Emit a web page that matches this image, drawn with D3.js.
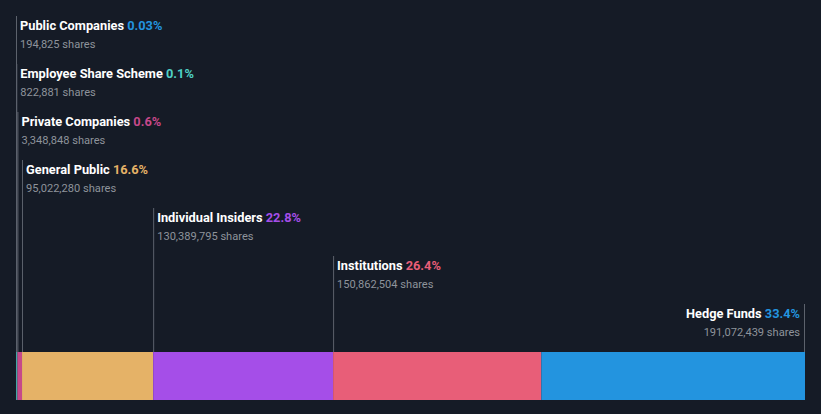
<!DOCTYPE html>
<html><head><meta charset="utf-8">
<script src="https://cdn.jsdelivr.net/npm/d3@7"></script>
<style>
html,body{margin:0;padding:0;background:#151b26;}
svg{display:block;}
</style></head>
<body>
<svg id="chart" width="821" height="414"></svg>
<script>
const categories = ["Public Companies","Employee Share Scheme","Private Companies","General Public","Individual Insiders","Institutions","Hedge Funds"];
const percentLabels = ["0.03%","0.1%","0.6%","16.6%","22.8%","26.4%","33.4%"];
const shares = [194825, 822881, 3348848, 95022280, 130389795, 150862504, 191072439];
const colors = ["#2394df","#4fd1c5","#c6488a","#e5b267","#a54ee8","#e85e78","#2394df"];

const W = 821, H = 414;
const svg = d3.select("#chart");
svg.append("rect").attr("width",W).attr("height",H).attr("fill","#151b26");

const total = d3.sum(shares);
const x = d3.scaleLinear().domain([0,total]).range([16,805]);
const barTop = 352, barBottom = 400;
const rowStep = 48;

let cum = 0;
const data = categories.map((c,i)=>{ const d={name:c,pct:percentLabels[i],shares:shares[i],color:colors[i],start:cum,end:cum+shares[i],i}; cum+=shares[i]; return d;});

svg.append("g").selectAll("rect").data(data).join("rect")
  .attr("x", d=>x(d.start)).attr("y", barTop)
  .attr("width", d=>Math.max(0, x(d.end)-x(d.start)))
  .attr("height", barBottom-barTop)
  .attr("fill", d=>d.color);

const fmt = d3.format(",");
const last = data.length-1;
const g = svg.append("g").selectAll("g").data(data).join("g");

g.append("line")
  .attr("x1", d=> d.i===last ? x(d.end)-0.5 : x(d.start)+0.5)
  .attr("x2", d=> d.i===last ? x(d.end)-0.5 : x(d.start)+0.5)
  .attr("y1", d=>16 + rowStep*d.i)
  .attr("y2", barTop)
  .attr("stroke","#5c626c").attr("stroke-width",1);

const t = g.append("text")
  .attr("x", d=> d.i===last ? x(d.end)-5 : x(d.start)+4)
  .attr("y", d=>29.5 + rowStep*d.i)
  .attr("text-anchor", d=> d.i===last ? "end" : "start")
  .attr("font-family","Roboto, sans-serif")
  .attr("font-size","12.8px")
  .attr("font-weight","bold");
t.append("tspan").attr("fill","#ffffff").text(d=>d.name+" ");
t.append("tspan").attr("fill",d=>d.color).text(d=>d.pct);

g.append("text")
  .attr("x", d=> d.i===last ? x(d.end)-5 : x(d.start)+4)
  .attr("y", d=>48 + rowStep*d.i)
  .attr("text-anchor", d=> d.i===last ? "end" : "start")
  .attr("font-family","Roboto, sans-serif")
  .attr("font-size","11.1px")
  .attr("fill","#8e939b")
  .text(d=>fmt(d.shares)+" shares");
</script>
</body></html>
